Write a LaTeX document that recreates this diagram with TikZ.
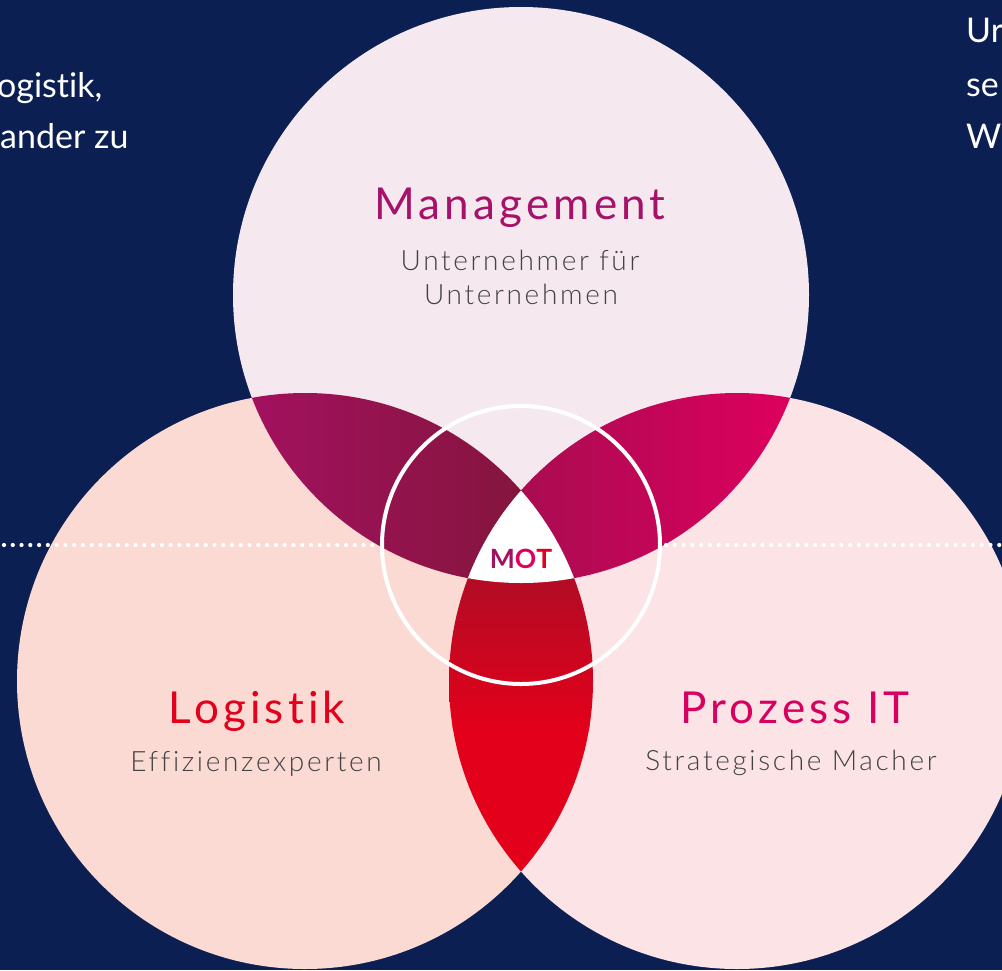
\documentclass[tikz,border=0pt]{standalone}
\usepackage{fontspec}
\setmainfont{Lato}[Ligatures=NoCommon]
\newfontfamily\lightfont{Lato Light}[LetterSpace=9.5,Ligatures=NoCommon]
\newfontfamily\ttlfont{Lato}[LetterSpace=9.5,Ligatures=NoCommon]
\definecolor{navy}{HTML}{0C1F52}
\definecolor{topc}{HTML}{F5E9EF}
\definecolor{leftc}{HTML}{FADAD2}
\definecolor{rightc}{HTML}{FBE3E6}
\definecolor{purA}{HTML}{A3115F}
\definecolor{purB}{HTML}{84153D}
\definecolor{magA}{HTML}{A80C51}
\definecolor{magB}{HTML}{DE005E}
\definecolor{redA}{HTML}{B20C25}
\definecolor{redB}{HTML}{E3001A}
\definecolor{mgmtc}{HTML}{A6116A}
\definecolor{logc}{HTML}{E2001A}
\definecolor{proc}{HTML}{D8005F}
\definecolor{subc}{HTML}{434343}
\tikzset{
  ttl/.style={inner sep=0pt, anchor=base, font=\ttlfont\fontsize{44}{50}\selectfont},
  subt/.style={inner sep=0pt, anchor=base, text=subc, font=\lightfont\fontsize{28}{32}\selectfont},
  side/.style={inner sep=0pt, anchor=base west, text=white, font=\fontsize{34}{40}\selectfont},
  ring/.style={draw=white, line width=4pt},
  dots/.style={white, line width=4.2pt, line cap=round, dash pattern=on 0pt off 8.77pt}
}
\begin{document}
\begin{tikzpicture}[x=1pt,y=-1pt]
\useasboundingbox (0,0) rectangle (1002,970);
\clip (0,0) rectangle (1002,970);
\fill[navy] (0,0) rectangle (1002,970);
\coordinate (T) at (521,295);
\coordinate (L) at (305,681);
\coordinate (R) at (737,681);
\coordinate (C) at (521,545);
\def\rr{288pt}
\fill[topc] (T) circle[radius=\rr];
\fill[leftc] (L) circle[radius=\rr];
\fill[rightc] (R) circle[radius=\rr];
% top & left
\begin{scope}
\clip (T) circle[radius=\rr];
\clip (L) circle[radius=\rr];
\shade[left color=purA, right color=purB] (250,380) rectangle (525,600);
\end{scope}
% top & right
\begin{scope}
\clip (T) circle[radius=\rr];
\clip (R) circle[radius=\rr];
\shade[left color=magA, right color=magB] (515,380) rectangle (795,600);
\end{scope}
% left & right
\begin{scope}
\clip (L) circle[radius=\rr];
\clip (R) circle[radius=\rr];
\fill[redB] (440,725) rectangle (600,875);
\shade[top color=redA, bottom color=redB] (440,575) rectangle (600,730);
\end{scope}
% triple
\begin{scope}
\clip (T) circle[radius=\rr];
\clip (L) circle[radius=\rr];
\clip (R) circle[radius=\rr];
\fill[white] (400,450) rectangle (640,600);
\end{scope}
% dotted line
\coordinate (d1) at (4,545);
\coordinate (d2) at (376,545);
\coordinate (d3) at (666,545);
\coordinate (d4) at (1002,545);
\draw[dots] (d1) -- (d2);
\draw[dots] (d3) -- (d4);
\draw[ring] (C) circle[radius=139pt];
% texts
\node[ttl, text=mgmtc] (mgt) at (520,219) {Management};
\node[subt] (mgt1) at (520,270) {Unternehmer für};
\node[subt] (mgt2) at (521,304) {Unternehmen};
\node[ttl, text=logc] (log) at (257,723) {Logistik};
\node[subt] (log1) at (256,771) {Effizienzexperten};
\node[ttl, text=proc] (pro) at (795,723) {Prozess IT};
\node[subt] (pro1) at (791,770) {Strategische Macher};
\node[inner sep=0pt, anchor=base, font=\bfseries\fontsize{26.5}{30}\selectfont] (mot) at (521,568) {\textcolor{purA}{M}\textcolor{magB}{O}\textcolor{redB}{T}};
\node[side] (l1) at (-3,97) {ogistik,};
\node[side] (l2) at (0,148) {ander zu};
\node[side] (r1) at (966,42) {Ur};
\node[side] (r2) at (966,96) {se};
\node[side] (r3) at (966,148) {W};
\end{tikzpicture}
\end{document}
